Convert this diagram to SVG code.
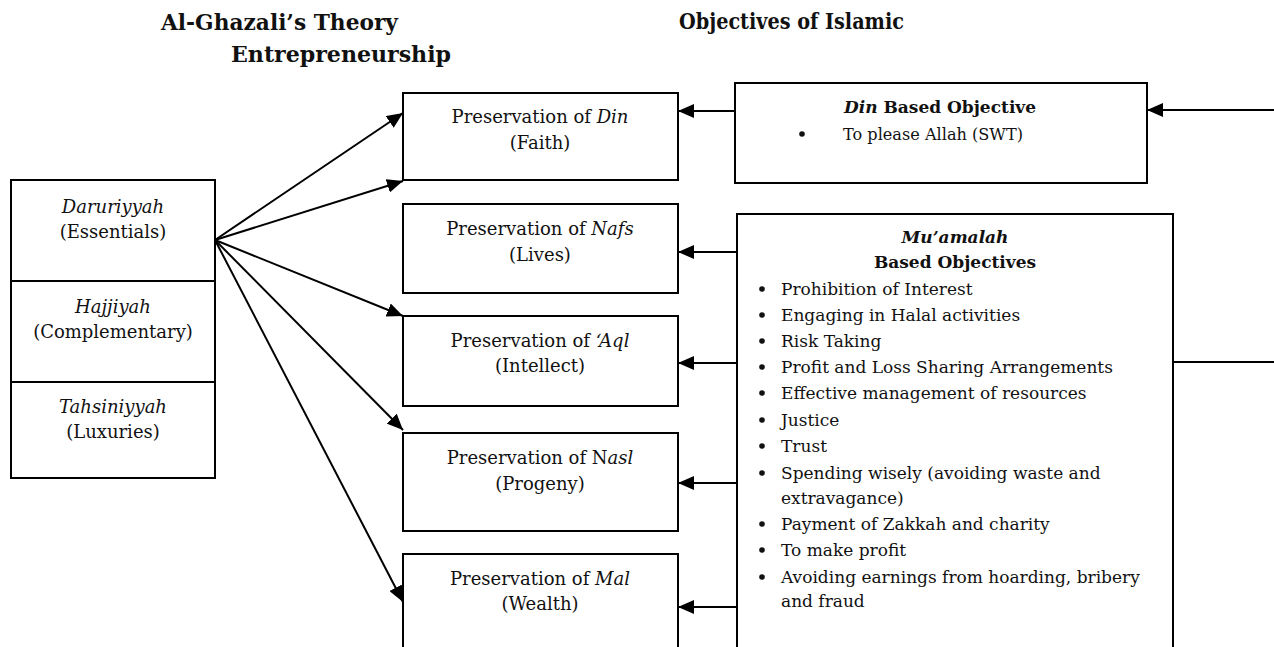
<svg xmlns="http://www.w3.org/2000/svg" width="1274" height="647" viewBox="0 0 1274 647">
  <defs>
    <marker id="arrow" viewBox="0 0 16 14" refX="16" refY="7" markerWidth="16" markerHeight="14" markerUnits="userSpaceOnUse" orient="auto">
      <path d="M0,0 L16,7 L0,14 Z" fill="#000"/>
    </marker>
    <style>
      .box { fill: #fff; stroke: #000; stroke-width: 2; }
      .txt { font-family: "DejaVu Serif", "Liberation Serif", serif; font-size: 17px; fill: #111; }
      .lg { font-size: 18px; }
      .mid { text-anchor: middle; }
      .title { font-family: "DejaVu Serif", "Liberation Serif", serif; font-size: 22px; font-weight: bold; fill: #111; }
      .b { font-weight: bold; }
      .i { font-style: italic; }
      .link { stroke: #000; stroke-width: 2; fill: none; }
      .arrow { marker-end: url(#arrow); }
    </style>
  </defs>
  <rect width="1274" height="647" fill="#fff"/>

  <!-- headings -->
  <g id="headings">
    <text class="title" x="161" y="30" textLength="237" lengthAdjust="spacingAndGlyphs">Al-Ghazali’s Theory</text>
    <text class="title" x="231" y="62" textLength="220" lengthAdjust="spacingAndGlyphs">Entrepreneurship</text>
    <text class="title" x="679" y="29" textLength="225" lengthAdjust="spacingAndGlyphs">Objectives of Islamic</text>
  </g>

  <!-- levels of needs -->
  <g id="levels">
    <rect class="box" x="11" y="180" width="204" height="298"/>
    <line class="link" x1="11" y1="281" x2="215" y2="281"/>
    <line class="link" x1="11" y1="382" x2="215" y2="382"/>
    <text class="txt lg mid i" x="113" y="213">Daruriyyah</text>
    <text class="txt lg mid" x="113" y="238">(Essentials)</text>
    <text class="txt lg mid i" x="113" y="313">Hajjiyah</text>
    <text class="txt lg mid" x="113" y="338">(Complementary)</text>
    <text class="txt lg mid i" x="113" y="413">Tahsiniyyah</text>
    <text class="txt lg mid" x="113" y="438">(Luxuries)</text>
  </g>

  <!-- five preservations -->
  <g id="din">
    <rect class="box" x="403" y="93" width="275" height="87"/>
    <text class="txt lg mid" x="540" y="123">Preservation of <tspan class="i">Din</tspan></text>
    <text class="txt lg mid" x="540" y="149">(Faith)</text>
  </g>
  <g id="nafs">
    <rect class="box" x="403" y="204" width="275" height="89"/>
    <text class="txt lg mid" x="540" y="235">Preservation of <tspan class="i">Nafs</tspan></text>
    <text class="txt lg mid" x="540" y="261">(Lives)</text>
  </g>
  <g id="aql">
    <rect class="box" x="403" y="316" width="275" height="90"/>
    <text class="txt lg mid" x="540" y="347">Preservation of <tspan class="i">‘Aql</tspan></text>
    <text class="txt lg mid" x="540" y="372">(Intellect)</text>
  </g>
  <g id="nasl">
    <rect class="box" x="403" y="433" width="275" height="98"/>
    <text class="txt lg mid" x="540" y="464">Preservation of N<tspan class="i">asl</tspan></text>
    <text class="txt lg mid" x="540" y="490">(Progeny)</text>
  </g>
  <g id="mal">
    <rect class="box" x="403" y="554" width="275" height="110"/>
    <text class="txt lg mid" x="540" y="585">Preservation of <tspan class="i">Mal</tspan></text>
    <text class="txt lg mid" x="540" y="610">(Wealth)</text>
  </g>

  <!-- objectives -->
  <g id="din-objective">
    <rect class="box" x="735" y="83" width="412" height="100"/>
    <text class="txt mid b" x="940" y="113"><tspan class="i">Din</tspan> Based Objective</text>
    <circle cx="802" cy="134" r="2.8" fill="#111"/>
    <text class="txt" x="843" y="140" textLength="180" lengthAdjust="spacingAndGlyphs">To please Allah (SWT)</text>
  </g>
  <g id="muamalah-objectives">
    <rect class="box" x="737" y="214" width="436" height="450"/>
    <text class="txt mid b i" x="955" y="243">Mu’amalah</text>
    <text class="txt mid b" x="955" y="268">Based Objectives</text>
    <g fill="#111">
      <circle cx="762" cy="289" r="2.8"/>
      <circle cx="762" cy="315" r="2.8"/>
      <circle cx="762" cy="341" r="2.8"/>
      <circle cx="762" cy="367" r="2.8"/>
      <circle cx="762" cy="393" r="2.8"/>
      <circle cx="762" cy="420" r="2.8"/>
      <circle cx="762" cy="446" r="2.8"/>
      <circle cx="762" cy="473" r="2.8"/>
      <circle cx="762" cy="524" r="2.8"/>
      <circle cx="762" cy="550" r="2.8"/>
      <circle cx="762" cy="577" r="2.8"/>
    </g>
    <text class="txt" x="781" y="295">Prohibition of Interest</text>
    <text class="txt" x="781" y="321">Engaging in Halal activities</text>
    <text class="txt" x="781" y="347">Risk Taking</text>
    <text class="txt" x="781" y="373">Profit and Loss Sharing Arrangements</text>
    <text class="txt" x="781" y="399">Effective management of resources</text>
    <text class="txt" x="781" y="426">Justice</text>
    <text class="txt" x="781" y="452">Trust</text>
    <text class="txt" x="781" y="479">Spending wisely (avoiding waste and</text>
    <text class="txt" x="781" y="504">extravagance)</text>
    <text class="txt" x="781" y="530">Payment of Zakkah and charity</text>
    <text class="txt" x="781" y="556">To make profit</text>
    <text class="txt" x="781" y="583">Avoiding earnings from hoarding, bribery</text>
    <text class="txt" x="781" y="607">and fraud</text>
  </g>

  <!-- connectors -->
  <g id="connectors">
    <line class="link arrow" x1="215" y1="240" x2="403" y2="113"/>
    <line class="link arrow" x1="215" y1="240" x2="403" y2="181"/>
    <line class="link arrow" x1="215" y1="240" x2="403" y2="316"/>
    <line class="link arrow" x1="215" y1="240" x2="403" y2="430"/>
    <line class="link arrow" x1="215" y1="240" x2="403" y2="602"/>

    <line class="link arrow" x1="735" y1="111" x2="678" y2="111"/>
    <line class="link arrow" x1="737" y1="252" x2="678" y2="252"/>
    <line class="link arrow" x1="737" y1="363" x2="678" y2="363"/>
    <line class="link arrow" x1="737" y1="483" x2="678" y2="483"/>
    <line class="link arrow" x1="737" y1="607" x2="678" y2="607"/>

    <line class="link arrow" x1="1274" y1="110" x2="1147" y2="110"/>
    <line class="link" x1="1173" y1="362" x2="1274" y2="362"/>
  </g>
</svg>
